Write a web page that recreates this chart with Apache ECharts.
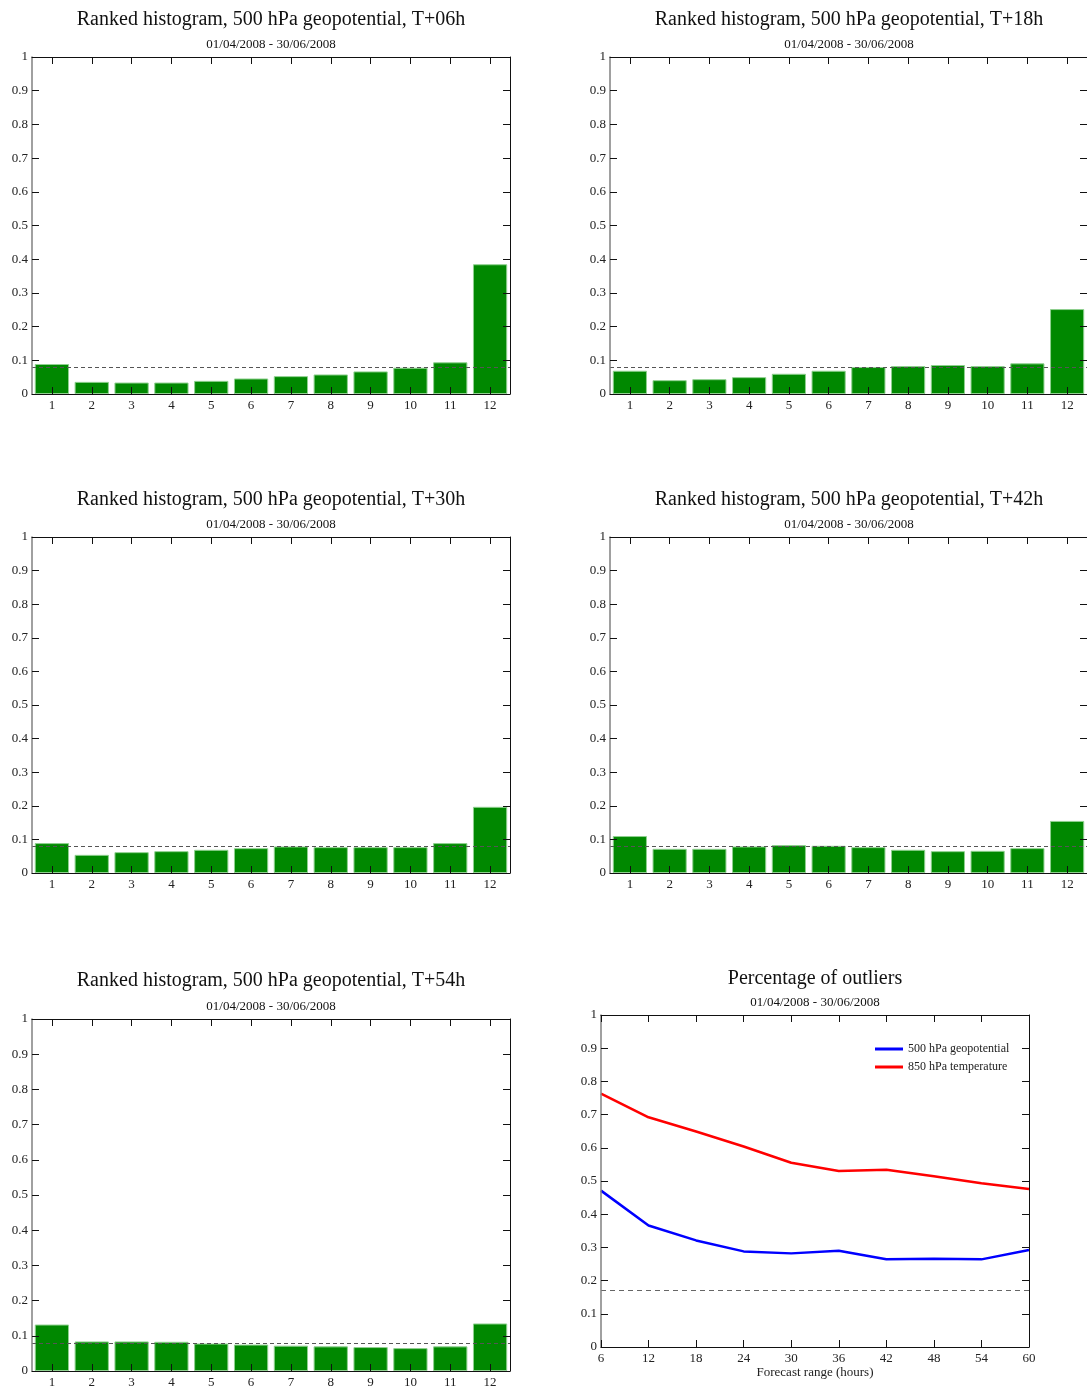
<!DOCTYPE html>
<html>
<head>
<meta charset="utf-8">
<script src="https://cdn.jsdelivr.net/npm/echarts@6/dist/echarts.min.js"></script>
<style>html,body{margin:0;padding:0;background:#fff;}#c{width:1087px;height:1389px;}</style>
</head>
<body>
<div id="c"></div>
<script>
// ---- data ----
const ranks = ['1','2','3','4','5','6','7','8','9','10','11','12'];
const rhT06 = [0.089,0.036,0.034,0.034,0.039,0.046,0.053,0.058,0.067,0.078,0.094,0.385];
const rhT18 = [0.069,0.041,0.044,0.050,0.060,0.069,0.080,0.083,0.086,0.083,0.091,0.252];
const rhT30 = [0.089,0.054,0.062,0.065,0.069,0.074,0.079,0.077,0.077,0.077,0.089,0.197];
const rhT42 = [0.110,0.072,0.072,0.079,0.083,0.081,0.077,0.069,0.065,0.066,0.074,0.155];
const rhT54 = [0.132,0.084,0.084,0.083,0.078,0.075,0.072,0.070,0.068,0.065,0.070,0.135];
const forecastHours = [6,12,18,24,30,36,42,48,54,60];
const outZ500 = [0.471,0.366,0.321,0.288,0.282,0.290,0.264,0.266,0.264,0.292];
const outT850 = [0.763,0.692,0.649,0.604,0.555,0.530,0.534,0.514,0.493,0.476];
const histTitles = [
  'Ranked histogram, 500 hPa geopotential, T+06h',
  'Ranked histogram, 500 hPa geopotential, T+18h',
  'Ranked histogram, 500 hPa geopotential, T+30h',
  'Ranked histogram, 500 hPa geopotential, T+42h',
  'Ranked histogram, 500 hPa geopotential, T+54h'
];
const outTitle = 'Percentage of outliers';
const period = '01/04/2008 - 30/06/2008';
const seriesNames = ['500 hPa geopotential','850 hPa temperature'];
const xName = 'Forecast range (hours)';
const uniformLevel = 1/12;
const outlierLevel = 2/12;

// ---- layout ----
const FONT = 'Liberation Serif';
const grids = [
  {left:32, top:57, width:478, height:337},
  {left:610, top:57, width:478, height:337},
  {left:32, top:537, width:478, height:336},
  {left:610, top:537, width:478, height:336},
  {left:32, top:1019, width:478, height:357},
  {left:601, top:1015, width:428, height:332}
];
const titlePos = [
  [271,10,38],[849,10,38],[271,490,518],[849,490,518],[271,971,1000],[815,969,996]
];
const histData = [rhT06,rhT18,rhT30,rhT42,rhT54];

const title = [];
titlePos.forEach((p,i)=>{
  title.push({text: i<5?histTitles[i]:outTitle, left:p[0], top:p[1], textAlign:'center', padding:0,
    textStyle:{fontFamily:FONT,fontSize:20,fontWeight:'normal',color:'#111'}});
  title.push({text: period, left:p[0], top:p[2], textAlign:'center', padding:0,
    textStyle:{fontFamily:FONT,fontSize:13,fontWeight:'normal',color:'#111'}});
});

const labelStyle = {fontFamily:FONT,fontSize:13,color:'#222'};
const tickStyle = {show:true,inside:true,length:7,alignWithLabel:true,interval:0,lineStyle:{color:'#111',width:1}};
const xAxis = [], yAxis = [], series = [];
grids.forEach((g,i)=>{
  const isLine = i===5;
  const xBase = isLine
    ? {type:'value', min:6, max:60, interval:6}
    : {type:'category', data:ranks, boundaryGap:true};
  xAxis.push(Object.assign({}, xBase, {gridIndex:i, position:'bottom', z:5,
    axisLine:{show:true,onZero:false,lineStyle:{color:'#111',width:1}},
    axisTick:tickStyle,
    axisLabel:Object.assign({margin:5, interval:0}, labelStyle),
    splitLine:{show:false},
    name: isLine?xName:'', nameLocation:'middle', nameGap:18,
    nameTextStyle:labelStyle}));
  xAxis.push(Object.assign({}, xBase, {gridIndex:i, position:'top', z:5,
    axisLine:{show:true,onZero:false,lineStyle:{color:'#111',width:1}},
    axisTick:tickStyle,
    axisLabel:{show:false}, splitLine:{show:false}}));
  yAxis.push({type:'value', gridIndex:i, min:0, max:1, interval:0.1, position:'left', z:5,
    axisLine:{show:true,onZero:false,lineStyle:{color:'#808080',width:1.5}},
    axisTick:{show:true,inside:true,length:7,lineStyle:{color:'#111'}},
    axisLabel:Object.assign({margin:4}, labelStyle),
    splitLine:{show:false}});
  yAxis.push({type:'value', gridIndex:i, min:0, max:1, interval:0.1, position:'right', z:5,
    axisLine:{show:true,onZero:false,lineStyle:{color:'#111',width:1}},
    axisTick:{show:true,inside:true,length:7,lineStyle:{color:'#111'}},
    axisLabel:{show:false}, splitLine:{show:false}});
  if(!isLine){
    series.push({type:'bar', xAxisIndex:2*i, yAxisIndex:2*i, data:histData[i],
      barCategoryGap:'14%', z:2,
      itemStyle:{color:'#008800', borderColor:'#8fd08f', borderWidth:1},
      markLine:{silent:true, symbol:'none', label:{show:false},
        lineStyle:{color:'#555',type:[4,3],width:1},
        data:[{yAxis:uniformLevel}]}});
  }
});
series.push({name:seriesNames[0], type:'line', xAxisIndex:10, yAxisIndex:10,
  data:forecastHours.map((h,k)=>[h,outZ500[k]]), showSymbol:false, symbol:'none',
  lineStyle:{color:'#0000ff',width:2.5}, itemStyle:{color:'#0000ff'},
  markLine:{silent:true, symbol:'none', label:{show:false},
    lineStyle:{color:'#666',type:[5,4],width:1}, data:[{yAxis:outlierLevel}]}});
series.push({name:seriesNames[1], type:'line', xAxisIndex:10, yAxisIndex:10,
  data:forecastHours.map((h,k)=>[h,outT850[k]]), showSymbol:false, symbol:'none',
  lineStyle:{color:'#ff0000',width:2.5}, itemStyle:{color:'#ff0000'}});

const chart = echarts.init(document.getElementById('c'), null, {renderer:'canvas'});
chart.setOption({
  animation:false,
  backgroundColor:'#fff',
  title: title,
  grid: grids.map(g=>Object.assign({containLabel:false}, g)),
  legend:{data:seriesNames, orient:'vertical', left:875, top:1043, padding:0, itemWidth:28, itemHeight:3,
    itemGap:6, icon:'rect', textStyle:{fontFamily:FONT,fontSize:12,color:'#222'}},
  xAxis: xAxis,
  yAxis: yAxis,
  series: series
});
</script>
</body>
</html>
